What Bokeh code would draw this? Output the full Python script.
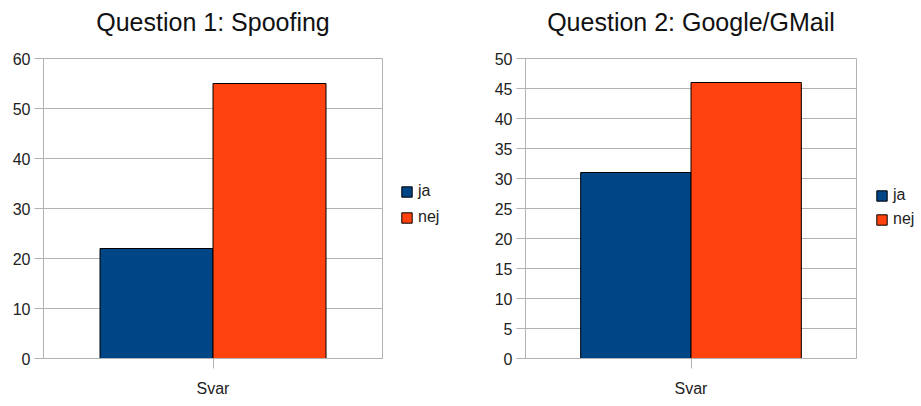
from bokeh.plotting import figure
from bokeh.models import FixedTicker, Legend, LegendItem, ColumnDataSource, Range1d, FactorRange, Title
from bokeh.transform import dodge
from bokeh.layouts import row
from bokeh.embed import file_html
from bokeh.resources import INLINE

categories = ["Svar"]
series = ["ja", "nej"]
colors = ["#004586", "#ff420e"]

titles = ["Question 1: Spoofing", "Question 2: Google/GMail"]
q1_ja = [22]
q1_nej = [55]
q2_ja = [31]
q2_nej = [46]
q1_ticks = [0, 10, 20, 30, 40, 50, 60]
q2_ticks = [0, 5, 10, 15, 20, 25, 30, 35, 40, 45, 50]

FONT = "Liberation Sans"
GRID = "#b3b3b3"
H = 406


def make_chart(title, ja, nej, ticks, frame_w, left):
    src = ColumnDataSource(dict(cat=categories, ja=ja, nej=nej))
    p = figure(x_range=FactorRange(*categories), y_range=Range1d(ticks[0], ticks[-1]),
               frame_width=frame_w, frame_height=300,
               output_backend="svg", toolbar_location=None,
               min_border_left=left, min_border_right=2,
               min_border_top=57, min_border_bottom=49)
    p.title = None
    # small spacer between the frame and the title, then the title itself
    p.add_layout(Title(text=" ", text_font_size="5px", text_font=FONT), "above")
    p.add_layout(Title(text=title, align="center", text_font=FONT, text_font_size="25px",
                       text_font_style="normal", text_color="#111111"), "above")

    p.vbar(x=dodge("cat", -1 / 6, range=p.x_range), top="ja", width=1 / 3, source=src,
           fill_color=colors[0], line_color="#000000", line_width=1)
    p.vbar(x=dodge("cat", 1 / 6, range=p.x_range), top="nej", width=1 / 3, source=src,
           fill_color=colors[1], line_color="#000000", line_width=1)

    p.yaxis.ticker = FixedTicker(ticks=ticks)
    p.xgrid.grid_line_color = None
    p.ygrid.grid_line_color = GRID
    p.ygrid.grid_line_width = 1
    p.outline_line_color = GRID
    p.outline_line_width = 1

    for ax in (p.xaxis[0], p.yaxis[0]):
        ax.axis_line_color = GRID
        ax.major_tick_line_color = GRID
        ax.minor_tick_line_color = None
        ax.major_tick_in = 0
        ax.major_label_text_font = FONT
        ax.major_label_text_font_size = "16px"
        ax.major_label_text_color = "#222222"
    p.yaxis.major_tick_out = 9
    p.yaxis.major_label_standoff = 4
    p.xaxis.major_tick_out = 10
    p.xaxis.major_label_standoff = 11
    return p


def make_legend(width, lx, ly, spacing):
    lp = figure(width=width, height=H, x_range=Range1d(0, 1), y_range=Range1d(0, 1),
                output_backend="svg", toolbar_location=None,
                x_axis_location=None, y_axis_location=None,
                min_border=0, outline_line_color=None)
    lp.grid.grid_line_color = None
    items = []
    for name, col in zip(series, colors):
        # placeholder glyph kept outside the visible range; it only feeds the legend swatch
        r = lp.vbar(x=[5], bottom=[5], top=[6], width=0.1, fill_color=col, line_color="#000000")
        items.append(LegendItem(label=name, renderers=[r]))
    legend = Legend(items=items, location=(lx, ly), orientation="vertical",
                    border_line_color=None, background_fill_alpha=0,
                    label_text_font=FONT, label_text_font_size="16px",
                    label_text_color="#222222",
                    glyph_width=13, glyph_height=13, label_height=13,
                    spacing=spacing, padding=0, margin=0, label_standoff=5)
    lp.add_layout(legend, "center")
    return lp


p1 = make_chart(titles[0], q1_ja, q1_nej, q1_ticks, 339, 43)   # width 43+339+2 = 384
l1 = make_legend(460 - 384, 16, 131, 8)
p2 = make_chart(titles[1], q2_ja, q2_nej, q2_ticks, 331, 65)   # width 65+331+2 = 398
l2 = make_legend(461 - 398, 17, 129, 6)
layout = row(p1, l1, p2, l2)

open("out.html", "w").write(file_html(layout, INLINE))
